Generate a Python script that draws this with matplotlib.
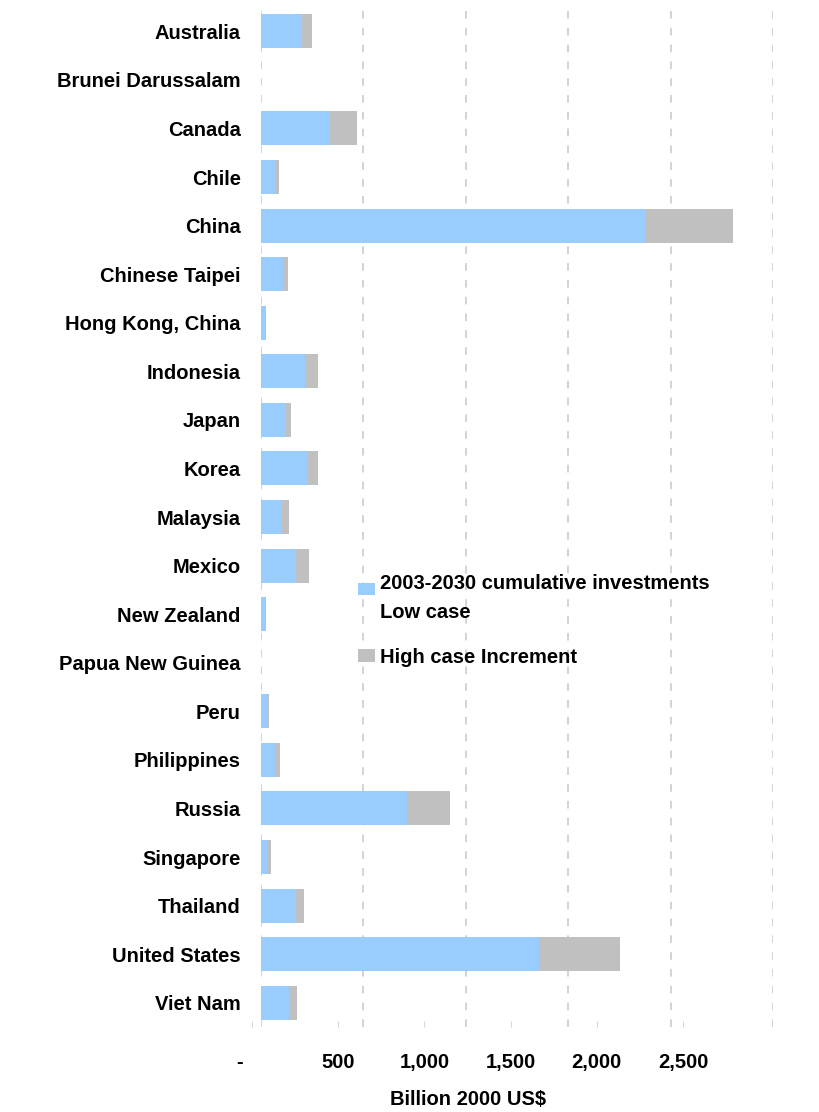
import matplotlib.pyplot as plt

# APEC economies, 2003-2030 cumulative investments (billion 2000 US$)
economies = ['Australia', 'Brunei Darussalam', 'Canada', 'Chile', 'China',
             'Chinese Taipei', 'Hong Kong, China', 'Indonesia', 'Japan', 'Korea',
             'Malaysia', 'Mexico', 'New Zealand', 'Papua New Guinea', 'Peru',
             'Philippines', 'Russia', 'Singapore', 'Thailand', 'United States',
             'Viet Nam']
low_case = [200, 0, 334, 70, 1877, 109, 20, 216, 120, 229,
            103, 169, 20, 0, 31, 70, 715, 31, 169, 1359, 138]
high_increment = [49, 0, 135, 18, 426, 23, 2, 62, 26, 49,
                  34, 65, 2, 0, 8, 23, 208, 18, 41, 394, 37]

tick_values = [0, 500, 1000, 1500, 2000, 2500]
tick_labels = ['-    ', '500', '1,000', '1,500', '2,000', '2,500']

blue = '#99CCFF'
grey = '#C0C0C0'
font = 'Liberation Sans'
fsize = 14.5

plt.rcParams['font.family'] = font
plt.rcParams['font.weight'] = 'bold'

fig = plt.figure(figsize=(8.19, 11.12), dpi=100)
W, H = 819, 1112

# main plotting area (bars + grid)
ax = fig.add_axes([261 / W, 1 - 1027 / H, 512 / W, 1020 / H])
ax.barh(economies, low_case, height=0.7, color=blue,
        label='2003-2030 cumulative investments\nLow case')
ax.barh(economies, high_increment, left=low_case, height=0.7, color=grey,
        label='High case Increment')
ax.set_xlim(0, 2500)
ax.set_ylim(len(economies) - 0.5, -0.5)
ax.set_xticks(tick_values)
ax.xaxis.grid(True, color='#C8C8C8', linestyle=(0, (5, 6)), linewidth=1.1)
ax.set_axisbelow(True)
ax.tick_params(axis='x', bottom=False, labelbottom=False)
ax.tick_params(axis='y', left=False, pad=11, labelsize=fsize)
for s in ax.spines.values():
    s.set_visible(False)

# value axis as printed below the chart
lab_ax = fig.add_axes([252 / W, 1 - 1027 / H, 431 / W, 0.0001])
lab_ax.set_xlim(0, 2500)
lab_ax.set_xticks(tick_values)
lab_ax.set_xticklabels(tick_labels)
lab_ax.set_yticks([])
lab_ax.tick_params(axis='x', direction='in', length=4, color='#D8D8D8',
                   pad=18.5, labelsize=fsize)
lab_ax.set_xlabel('Billion 2000 US$', fontsize=fsize, fontweight='bold',
                  labelpad=13.5)
lab_ax.patch.set_visible(False)
for s in lab_ax.spines.values():
    s.set_visible(False)

leg = ax.legend(loc='upper left', bbox_to_anchor=(358 / W, 1 - 574 / H),
                bbox_transform=fig.transFigure, frameon=False,
                fontsize=fsize, handlelength=0.85, handleheight=0.6,
                handletextpad=0.25, labelspacing=1.25, borderpad=0,
                borderaxespad=0)
for t in leg.get_texts():
    t.set_linespacing(1.7)
# the blue key sits next to the first line of its two-line label
h = leg.legend_handles[0]
h.set_y(h.get_y() + 7)

fig.savefig('out.png', dpi=100)
